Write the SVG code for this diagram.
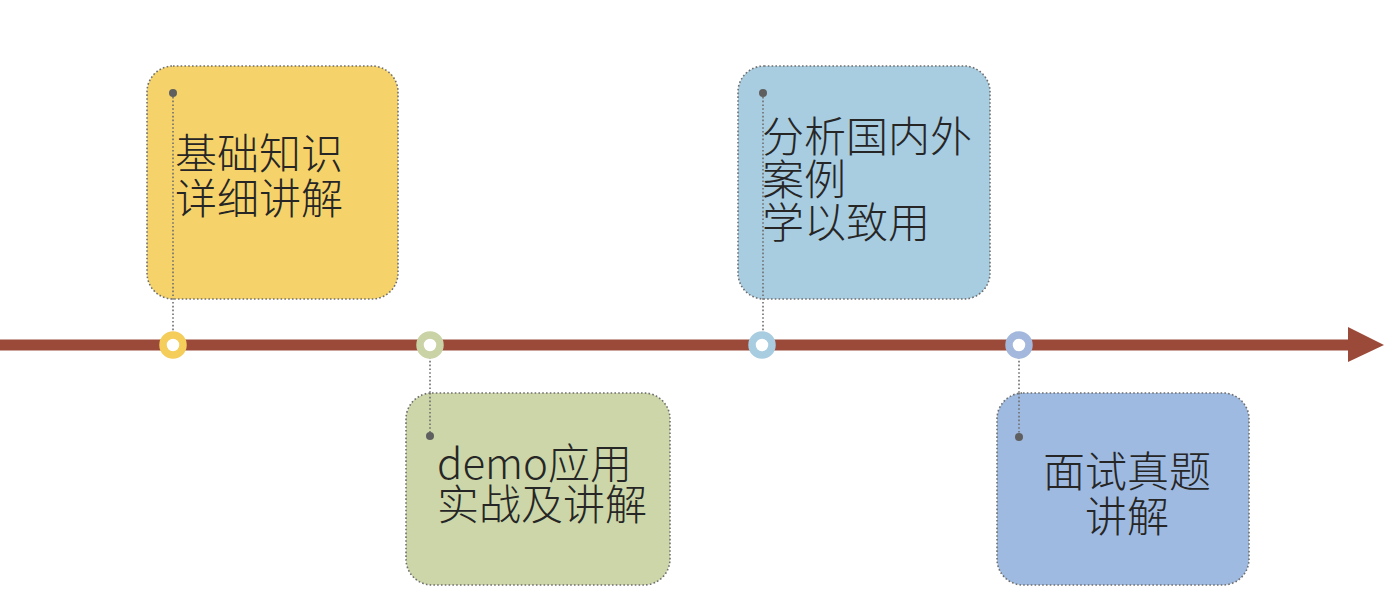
<svg xmlns="http://www.w3.org/2000/svg" width="1400" height="600" viewBox="0 0 1400 600">
<style>
.box{stroke:#6f6f6f;stroke-width:1.6;stroke-dasharray:1.6 2.2}
.lead{stroke:#6f6f6f;stroke-width:1.6;stroke-dasharray:1.6 2.2;fill:none}
.dot{fill:#5f5f5f}
.ring{fill:#ffffff;stroke-width:7.5}
.t{font-family:"Noto Sans CJK SC","Noto Sans",sans-serif;font-size:42px;font-weight:300;fill:#262626}
</style>
<rect width="1400" height="600" fill="#ffffff"/>
<g id="connectors">
<rect x="0" y="339.5" width="1352" height="11" fill="#9b4a3a"/>
<polygon points="1348,327 1384,345 1348,362" fill="#9b4a3a"/>
<line class="lead" x1="173" y1="93" x2="173" y2="333"/>
<line class="lead" x1="430" y1="357" x2="430" y2="436"/>
<line class="lead" x1="763" y1="93" x2="763" y2="333"/>
<line class="lead" x1="1019" y1="357" x2="1019" y2="437"/>
</g>
<g id="node1">
<rect class="box" x="147" y="66" width="251" height="233" rx="26" fill="#f5d36a"/>
<line class="lead" x1="173" y1="93" x2="173" y2="299"/>
<circle class="dot" cx="173" cy="93" r="4"/>
<text class="t"><tspan x="175" y="169">基础知识</tspan><tspan x="175" y="214">详细讲解</tspan></text>
<circle class="ring" cx="173" cy="345" r="10" stroke="#f5cd5b"/>
</g>
<g id="node2">
<rect class="box" x="406" y="393" width="264" height="192" rx="26" fill="#ccd6a8"/>
<line class="lead" x1="430" y1="393" x2="430" y2="436"/>
<circle class="dot" cx="430" cy="436" r="4"/>
<text class="t"><tspan x="437" y="479">demo应用</tspan><tspan x="437" y="520">实战及讲解</tspan></text>
<circle class="ring" cx="430" cy="345" r="10" stroke="#c9d3a5"/>
</g>
<g id="node3">
<rect class="box" x="738" y="66" width="252" height="233" rx="26" fill="#a8cce0"/>
<line class="lead" x1="763" y1="93" x2="763" y2="299"/>
<circle class="dot" cx="763" cy="93" r="4"/>
<text class="t"><tspan x="762" y="152">分析国内外</tspan><tspan x="762" y="195">案例</tspan><tspan x="762" y="238">学以致用</tspan></text>
<circle class="ring" cx="762" cy="345" r="10" stroke="#a8cce0"/>
</g>
<g id="node4">
<rect class="box" x="997" y="393" width="252" height="192" rx="26" fill="#9fbae0"/>
<line class="lead" x1="1019" y1="393" x2="1019" y2="437"/>
<circle class="dot" cx="1019" cy="437" r="4"/>
<text class="t" text-anchor="middle"><tspan x="1127" y="487">面试真题</tspan><tspan x="1127" y="532">讲解</tspan></text>
<circle class="ring" cx="1019" cy="345" r="10" stroke="#a3b8dc"/>
</g>
</svg>
